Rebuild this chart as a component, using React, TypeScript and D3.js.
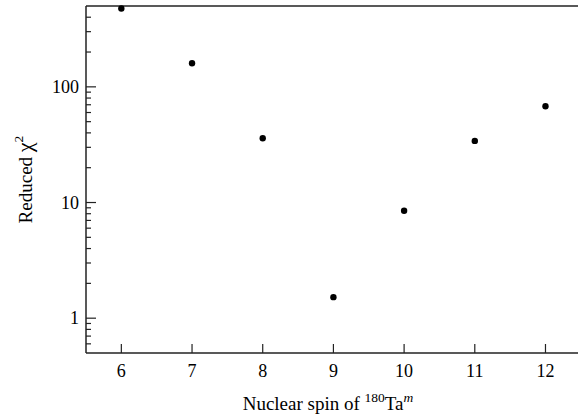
import React from 'react';
import * as d3 from 'd3';

// spin values and the reduced chi-square fit quality
const spins = [6, 7, 8, 9, 10, 11, 12];
const chi2 = [476, 160, 35.9, 1.52, 8.5, 34.1, 68];
const yMajor = [1, 10, 100];

const W = 578;
const H = 420;
const m = { left: 86, right: 0, top: 6, bottom: 67 };

const App = () => {
  const x = d3.scaleLinear().domain([5.5, 12.46]).range([m.left, W - m.right]);
  const y = d3.scaleLog().domain([0.5, 500]).range([H - m.bottom, m.top]);

  // minor ticks: 2..9 times each decade, inside the domain
  const minor: number[] = [];
  [0.1, 1, 10, 100].forEach(d => {
    for (let k = 2; k <= 9; k++) {
      const v = d * k;
      if (v > 0.5 && v < 500) minor.push(v);
    }
  });

  const axisColor = '#222';
  const font = '"Liberation Serif", "Times New Roman", serif';
  const y0 = H - m.bottom;

  return (
    <svg width={W} height={H} style={{ position: 'absolute', left: 0, top: 0 }} fontFamily={font}>
      {/* frame: left, top and bottom */}
      <line x1={m.left} x2={m.left} y1={m.top} y2={y0} stroke={axisColor} strokeWidth={1.5} />
      <line x1={m.left} x2={W} y1={m.top} y2={m.top} stroke={axisColor} strokeWidth={1.5} />
      <line x1={m.left} x2={W} y1={y0} y2={y0} stroke={axisColor} strokeWidth={1.5} />

      {/* x ticks */}
      {spins.map(s => (
        <g key={'x' + s}>
          <line x1={x(s)} x2={x(s)} y1={y0} y2={y0 - 9} stroke={axisColor} strokeWidth={1.2} />
          <text x={x(s)} y={377} textAnchor="middle" fontSize={18}>{s}</text>
        </g>
      ))}

      {/* y ticks */}
      {yMajor.map(v => (
        <g key={'y' + v}>
          <line x1={m.left} x2={m.left + 10} y1={y(v)} y2={y(v)} stroke={axisColor} strokeWidth={1.2} />
          <text x={79} y={y(v)} dy="0.35em" textAnchor="end" fontSize={18}>{v}</text>
        </g>
      ))}
      {minor.map(v => (
        <line key={'m' + v} x1={m.left} x2={m.left + 5} y1={y(v)} y2={y(v)} stroke={axisColor} strokeWidth={1.2} />
      ))}

      {/* points */}
      {spins.map((s, i) => (
        <circle key={'p' + s} cx={x(s)} cy={y(chi2[i])} r={3.2} fill="#000" />
      ))}

      {/* axis titles */}
      <text x={328} y={410} textAnchor="middle" fontSize={19}>
        Nuclear spin of <tspan fontSize={13.5} dy={-8}>180</tspan><tspan dy={8}>Ta</tspan>
        <tspan fontSize={13.5} dy={-8} fontStyle="italic">m</tspan>
      </text>
      <text transform={`translate(32, ${(m.top + y0) / 2}) rotate(-90)`} textAnchor="middle" fontSize={19}>
        Reduced <tspan fontSize={22}>χ</tspan><tspan fontSize={13.5} dy={-9}>2</tspan>
      </text>
    </svg>
  );
};

export default App;
